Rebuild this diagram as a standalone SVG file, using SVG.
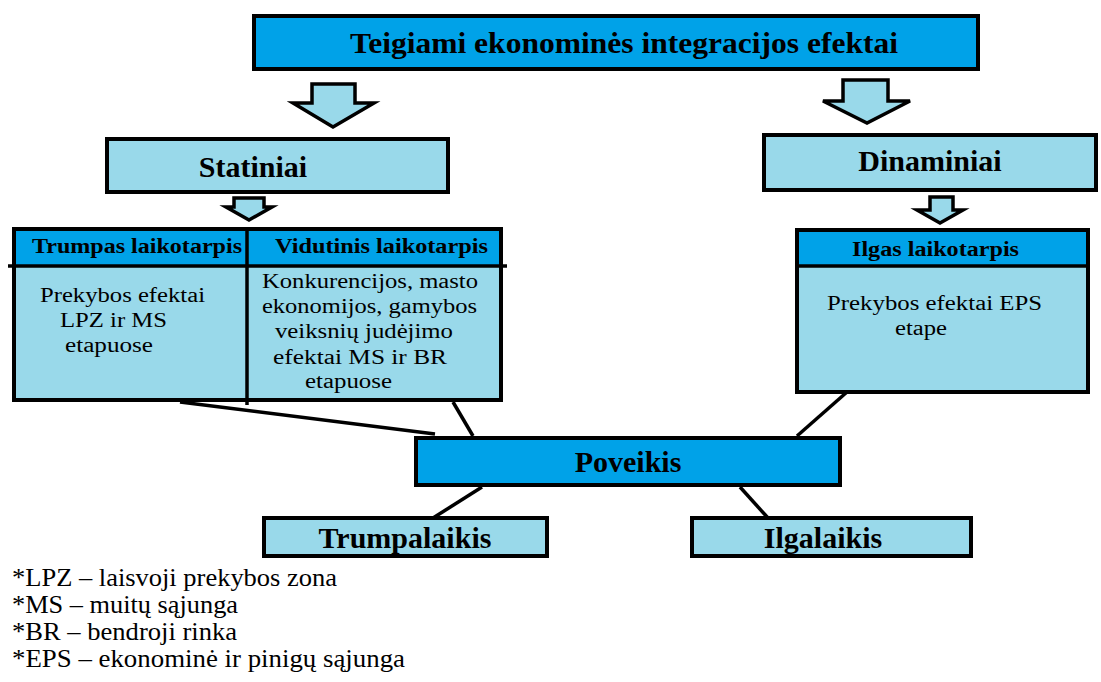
<svg xmlns="http://www.w3.org/2000/svg" width="1101" height="682" viewBox="0 0 1101 682">
<style>
.box{stroke:#000;stroke-width:4}
.dark{fill:#00A2E8}
.light{fill:#99D9EA}
.arrow{fill:#99D9EA;stroke:#000;stroke-width:3.5;stroke-linejoin:miter}
.conn{stroke:#000;stroke-width:3.5;fill:none}
.t{fill:#000;font-family:"Liberation Serif","Times New Roman",Tinos,"DejaVu Serif",serif}
.r{font-family:"Times New Roman","Liberation Serif",Tinos,"Nimbus Roman","DejaVu Serif",serif;font-weight:normal}
.b{font-weight:bold}
.title{font-size:30px;text-anchor:middle}
.hdr{font-size:20px}
.body{font-size:20px}
.leg{font-size:26px}
</style>
<rect width="1101" height="682" fill="#fff"/>

<g id="connectors">
<line class="conn" x1="180" y1="402" x2="435" y2="434"/>
<line class="conn" x1="453" y1="402" x2="473" y2="436"/>
<line class="conn" x1="847" y1="392" x2="797" y2="436"/>
<line class="conn" x1="482" y1="487" x2="433" y2="518"/>
<line class="conn" x1="740" y1="487" x2="768" y2="518"/>
<polygon class="arrow" points="312,84 355,84 355,103 374,103 333,127 293,103 312,103"/>
<polygon class="arrow" points="843,80 888,80 888,101 910,101 867,123 823,101 843,101"/>
<polygon class="arrow" points="234,198 264,198 264,207 272,207 249,220 226,207 234,207"/>
<polygon class="arrow" points="930,197 953,197 953,210 963,210 940,223 917,210 930,210"/>
</g>

<g id="top">
<rect class="box dark" x="254" y="16" width="724" height="53"/>
<text class="t b" x="350" y="53" font-size="30" textLength="548" lengthAdjust="spacingAndGlyphs">Teigiami ekonominės integracijos efektai</text>
</g>

<g id="statiniai">
<rect class="box light" x="107" y="139" width="341" height="53"/>
<text class="t b title" x="253" y="177">Statiniai</text>
</g>

<g id="dinaminiai">
<rect class="box light" x="764" y="135" width="332" height="55"/>
<text class="t b title" x="930" y="171">Dinaminiai</text>
</g>

<g id="table-left">
<rect class="dark" x="12" y="227" width="491" height="38"/>
<rect class="light" x="12" y="265" width="491" height="137"/>
<rect x="14" y="229" width="487" height="171" fill="none" stroke="#000" stroke-width="4"/>
<line x1="8" y1="266" x2="507" y2="266" stroke="#000" stroke-width="3.5"/>
<line x1="247" y1="227" x2="247" y2="405" stroke="#000" stroke-width="3.5"/>
<text class="t b hdr" x="32" y="253" textLength="210" lengthAdjust="spacingAndGlyphs">Trumpas laikotarpis</text>
<text class="t b hdr" x="275" y="253" textLength="213" lengthAdjust="spacingAndGlyphs">Vidutinis laikotarpis</text>
<text class="t r body" x="40" y="302" textLength="165" lengthAdjust="spacingAndGlyphs">Prekybos efektai</text>
<text class="t r body" x="60" y="327" textLength="107" lengthAdjust="spacingAndGlyphs">LPZ ir MS</text>
<text class="t r body" x="65" y="352" textLength="88" lengthAdjust="spacingAndGlyphs">etapuose</text>
<text class="t r body" x="262" y="288" textLength="216" lengthAdjust="spacingAndGlyphs">Konkurencijos, masto</text>
<text class="t r body" x="262" y="313" textLength="215" lengthAdjust="spacingAndGlyphs">ekonomijos, gamybos</text>
<text class="t r body" x="275" y="338" textLength="178" lengthAdjust="spacingAndGlyphs">veiksnių judėjimo</text>
<text class="t r body" x="273" y="364" textLength="174" lengthAdjust="spacingAndGlyphs">efektai MS ir BR</text>
<text class="t r body" x="305" y="388" textLength="87" lengthAdjust="spacingAndGlyphs">etapuose</text>
</g>

<g id="ilgas">
<rect class="dark" x="795" y="228" width="295" height="38"/>
<rect class="light" x="795" y="266" width="295" height="128"/>
<rect x="797" y="230" width="291" height="162" fill="none" stroke="#000" stroke-width="4"/>
<line x1="795" y1="266" x2="1090" y2="266" stroke="#000" stroke-width="3.5"/>
<text class="t b hdr" x="852" y="256" textLength="167" lengthAdjust="spacingAndGlyphs">Ilgas laikotarpis</text>
<text class="t r body" x="827" y="310" textLength="215" lengthAdjust="spacingAndGlyphs">Prekybos efektai EPS</text>
<text class="t r body" x="895" y="335" textLength="52" lengthAdjust="spacingAndGlyphs">etape</text>
</g>

<g id="poveikis">
<rect class="box dark" x="416" y="438" width="424" height="47"/>
<text class="t b title" x="628" y="472">Poveikis</text>
</g>

<g id="trumpalaikis">
<rect class="box light" x="264" y="518" width="283" height="38"/>
<text class="t b title" x="405" y="548">Trumpalaikis</text>
</g>

<g id="ilgalaikis">
<rect class="box light" x="692" y="518" width="279" height="38"/>
<text class="t b title" x="823" y="548">Ilgalaikis</text>
</g>

<g id="legend">
<text class="t r leg" x="12" y="586" textLength="325" lengthAdjust="spacingAndGlyphs">*LPZ – laisvoji prekybos zona</text>
<text class="t r leg" x="12" y="613" textLength="226" lengthAdjust="spacingAndGlyphs">*MS – muitų sąjunga</text>
<text class="t r leg" x="12" y="640" textLength="225" lengthAdjust="spacingAndGlyphs">*BR – bendroji rinka</text>
<text class="t r leg" x="12" y="667" textLength="393" lengthAdjust="spacingAndGlyphs">*EPS – ekonominė ir pinigų sąjunga</text>
</g>
</svg>
